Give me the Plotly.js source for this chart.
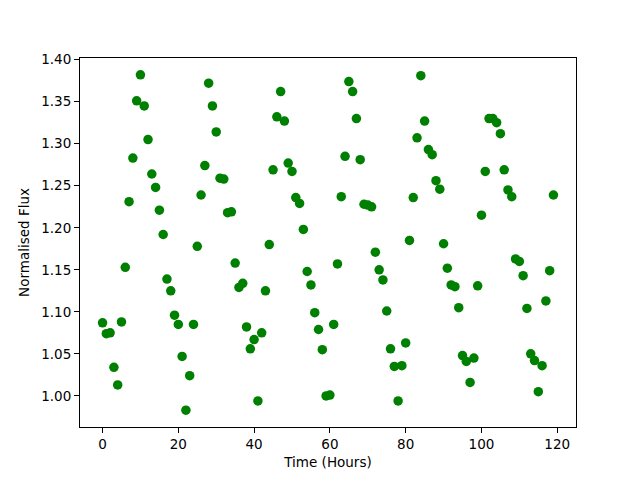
<!DOCTYPE html>
<html>
<head>
<meta charset="utf-8">
<script src="https://cdn.plot.ly/plotly-3.0.1.min.js"></script>
<style>html,body{margin:0;padding:0;background:#fff}#chart{width:640px;height:480px}</style>
</head>
<body>
<div id="chart"></div>
<script>
const hours = Array.from({length: 120}, (_, i) => i);
const flux = [
1.087,1.074,1.075,1.034,1.013,1.088,1.153,1.231,1.283,1.351,
1.382,1.345,1.305,1.264,1.248,1.221,1.192,1.139,1.125,1.096,
1.085,1.047,0.983,1.024,1.085,1.178,1.239,1.274,1.372,1.345,
1.314,1.259,1.258,1.218,1.219,1.158,1.129,1.134,1.082,1.056,
1.067,0.994,1.075,1.125,1.180,1.269,1.332,1.362,1.327,1.277,
1.267,1.236,1.229,1.198,1.148,1.132,1.099,1.079,1.055,1.000,
1.001,1.085,1.157,1.237,1.285,1.374,1.362,1.330,1.281,1.228,
1.227,1.225,1.171,1.150,1.138,1.101,1.056,1.035,0.994,1.036,
1.063,1.185,1.236,1.307,1.381,1.327,1.293,1.287,1.256,1.246,
1.181,1.152,1.132,1.130,1.105,1.048,1.041,1.016,1.045,1.131,
1.215,1.267,1.330,1.330,1.325,1.312,1.269,1.245,1.237,1.163,
1.160,1.143,1.104,1.050,1.042,1.005,1.036,1.113,1.149,1.239
];
const xTicks = [0, 20, 40, 60, 80, 100, 120];
const yTicks = [1.00, 1.05, 1.10, 1.15, 1.20, 1.25, 1.30, 1.35, 1.40];

const font = {family: 'DejaVu Sans', size: 13.5, color: '#000'};
Plotly.newPlot('chart', [{
  x: hours, y: flux, type: 'scatter', mode: 'markers',
  marker: {color: '#008000', size: 9.5}
}], {
  width: 640, height: 480,
  margin: {l: 80, r: 64, t: 58, b: 53},
  paper_bgcolor: '#fff', plot_bgcolor: '#fff',
  font: font,
  showlegend: false,
  xaxis: {
    range: [-5.95, 124.95], tickvals: xTicks, ticktext: xTicks.map(String),
    showgrid: false, zeroline: false, showline: true, mirror: true,
    linecolor: '#000', linewidth: 1, ticks: 'outside', ticklen: 5, tickcolor: '#000',
    tickfont: font, title: {text: 'Time (Hours)', font: font, standoff: 6}
  },
  yaxis: {
    range: [0.963, 1.402], tickvals: yTicks, ticktext: yTicks.map(v => v.toFixed(2)),
    showgrid: false, zeroline: false, showline: true, mirror: true,
    linecolor: '#000', linewidth: 1, ticks: 'outside', ticklen: 5, tickcolor: '#000',
    tickfont: font, title: {text: 'Normalised Flux', font: font, standoff: 8}
  }
}, {staticPlot: true});
</script>
</body>
</html>
